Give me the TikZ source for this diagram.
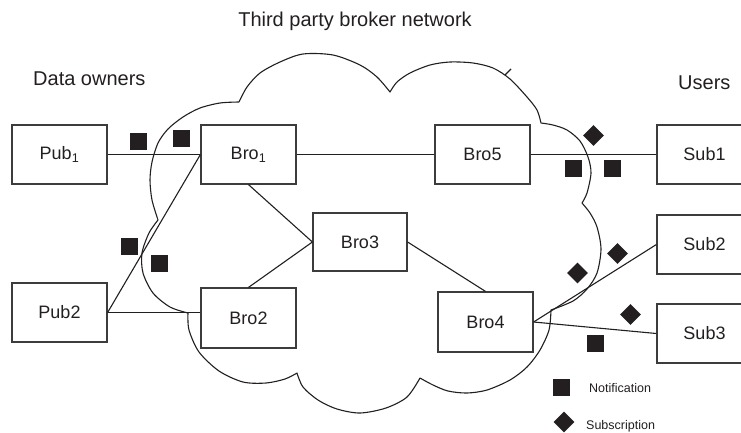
\documentclass[tikz,border=0pt]{standalone}
\usepackage{fontspec}
\setmainfont{Liberation Sans}
\usetikzlibrary{shapes.geometric}
\definecolor{ink}{HTML}{231F20}
\definecolor{frame}{HTML}{3C3C3C}

\begin{document}
\begin{tikzpicture}[x=1pt,y=-1pt,
  box/.style={draw=frame, line width=1.2pt, minimum width=95pt, minimum height=59pt,
              inner sep=0pt, text=ink, font=\fontsize{18}{21}\selectfont},
  link/.style={draw=ink, line width=1.1pt},
  cloudline/.style={draw=ink, line width=1.1pt, line join=round},
  notif/.style={rectangle, fill=ink, minimum size=17pt, inner sep=0pt},
  subs/.style={diamond, fill=ink, minimum width=21pt, minimum height=21pt, inner sep=0pt},
  heading/.style={text=ink, font=\fontsize{20}{24}\selectfont, inner sep=0pt, anchor=base west},
  legendtext/.style={text=ink, font=\fontsize{12.5}{15}\selectfont, inner sep=0pt, anchor=base west}]
\useasboundingbox (0,0) rectangle (741,432);

% broker network cloud, one smooth lobe after another
\draw[cloudline]
  plot[smooth] coordinates {(239,102) (247,87) (260,73) (280,62) (303,54) (333,55) (360,65) (377,77) (390,92)}
  -- plot[smooth] coordinates {(390,92) (397,82) (410,73) (430,65) (450,62) (473,63) (493,68) (510,79) (527,97) (537,110) (541,123)}
  -- plot[smooth] coordinates {(541,123) (553,125) (567,130) (580,141) (588,157) (591,173) (587,193) (582,203)}
  -- plot[smooth] coordinates {(582,203) (590,213) (597,227) (601,249) (597,273) (587,289) (573,301) (551,310)}
  -- plot[smooth] coordinates {(551,310) (549,330) (540,350) (527,367) (510,380) (487,390) (467,393) (448,391) (433,385) (420,378)}
  -- plot[smooth] coordinates {(420,378) (407,397) (386,408) (360,413) (337,409) (318,400) (303,387) (297,373)}
  -- plot[smooth] coordinates {(297,373) (285,379) (266,383) (243,382) (219,371) (199,352) (189,330) (188,313)}
  -- plot[smooth] coordinates {(188,313) (170,307) (153,293) (143,273) (142,253) (149,233) (158,220)}
  -- plot[smooth] coordinates {(158,220) (152,200) (150,180) (152,162) (158,143) (168,129) (183,117) (200,108) (220,103) (239,102)};
\draw[cloudline] (505,75) -- (511,69);

% headings
\node[heading, anchor=base] (title) at (355,26) {Third party broker network};
\node[heading] (owners) at (33,85) {Data owners};
\node[heading] (users) at (678,89) {Users};

% publishers, brokers and subscribers
\node[box] (pub1) at (59.5,154.5) {Pub\textsubscript{1}};
\node[box] (bro1) at (248.5,154.5) {Bro\textsubscript{1}};
\node[box] (bro5) at (482.5,154.5) {Bro5};
\node[box] (sub1) at (704.5,154.5) {Sub1};
\node[box, minimum width=94pt, minimum height=58pt] (bro3) at (360,242) {Bro3};
\node[box] (pub2) at (59.5,312.5) {Pub2};
\node[box, minimum height=60pt] (bro2) at (248.5,318) {Bro2};
\node[box, minimum height=60pt] (bro4) at (485.5,322) {Bro4};
\node[box] (sub2) at (704.5,244.5) {Sub2};
\node[box] (sub3) at (704.5,333.5) {Sub3};

% connections
\draw[link] (pub1.east) -- (bro1.west);
\draw[link] (pub2.east) -- (bro1.west);
\draw[link] (pub2.east) -- (pub2.east -| bro2.west);
\draw[link] (bro1.south) -- (bro3.west);
\draw[link] (bro2.north) -- (bro3.west);
\draw[link] (bro3.east) -- (bro4.north);
\draw[link] (bro1.east) -- (bro5.west);
\draw[link] (bro5.east) -- (sub1.west);
\draw[link] (bro4.east) -- (sub2.west);
\draw[link] (bro4.east) -- (sub3.west);

% notifications
\node[notif] (n1) at (138,141.5) {};
\node[notif] (n2) at (181.5,138.5) {};
\node[notif] (n3) at (129,246.5) {};
\node[notif] (n4) at (159.5,263.5) {};
\node[notif] (n5) at (573.5,168.5) {};
\node[notif] (n6) at (612.5,168.5) {};
\node[notif] (n7) at (595.5,343.5) {};

% subscriptions
\node[subs] (s1) at (593.5,135.5) {};
\node[subs] (s2) at (577.5,273) {};
\node[subs] (s3) at (617.5,253.5) {};
\node[subs] (s4) at (630.5,314.5) {};

% legend
\node[notif] (keyn) at (561.5,387) {};
\node[legendtext] (keyntext) at (589,392) {Notification};
\node[subs] (keys) at (564,422) {};
\node[legendtext] (keystext) at (586,429) {Subscription};
\end{tikzpicture}
\end{document}
